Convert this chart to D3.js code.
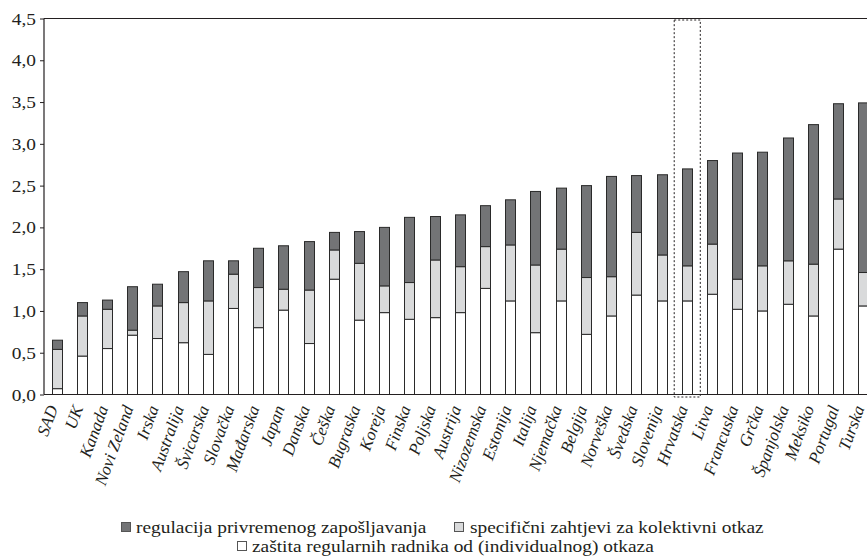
<!DOCTYPE html>
<html><head><meta charset="utf-8">
<script src="https://cdn.jsdelivr.net/npm/d3@7/dist/d3.min.js"></script>
<style>
html,body{margin:0;padding:0;background:#fff;}
svg{display:block;}
svg text{fill:#231f20;}
</style></head>
<body>
<svg id="chart" width="867" height="557"></svg>
<script>
const countries = ["SAD","UK","Kanada","Novi Zeland","Irska","Australija","Švicarska","Slovačka","Mađarska","Japan","Danska","Češka","Bugraska","Koreja","Finska","Poljska","Austrija","Nizozemska","Estonija","Italija","Njemačka","Belgija","Norveška","Švedska","Slovenija","Hrvatska","Litva","Francuska","Grčka","Španjolska","Meksiko","Portugal","Turska"];
const regular    = [0.07,0.46,0.55,0.71,0.67,0.62,0.48,1.03,0.80,1.01,0.61,1.38,0.89,0.98,0.90,0.92,0.98,1.27,1.12,0.74,1.12,0.72,0.94,1.19,1.12,1.12,1.20,1.02,1.00,1.08,0.94,1.74,1.06];
const collective = [0.47,0.48,0.47,0.06,0.39,0.48,0.64,0.41,0.48,0.25,0.64,0.35,0.68,0.32,0.44,0.69,0.55,0.50,0.67,0.81,0.62,0.68,0.47,0.75,0.55,0.42,0.60,0.36,0.54,0.52,0.62,0.60,0.40];
const temporary  = [0.11,0.16,0.11,0.52,0.26,0.37,0.48,0.16,0.47,0.52,0.58,0.21,0.38,0.70,0.78,0.52,0.62,0.49,0.54,0.88,0.73,1.10,1.20,0.68,0.96,1.16,1.00,1.51,1.36,1.47,1.67,1.14,2.03];
const yTicks = [0,0.5,1,1.5,2,2.5,3,3.5,4,4.5];
const seriesKeys = ["regular","collective","temporary"];
const seriesLabels = {
  temporary: "regulacija privremenog zapošljavanja",
  collective: "specifični zahtjevi za kolektivni otkaz",
  regular: "zaštita regularnih radnika od (individualnog) otkaza"
};
const highlight = "Hrvatska";

const colors = {regular:"#ffffff", collective:"#d9dadb", temporary:"#737476"};
const rows = countries.map((c,i)=>({country:c, regular:regular[i], collective:collective[i], temporary:temporary[i]}));
const FONT = "Liberation Serif";

const svg = d3.select("#chart");
const pLeft = 44, pRight = 875.8, pTop = 18.5, pBottom = 394.5;
const x = d3.scaleBand().domain(countries).range([pLeft,pRight]).paddingInner(0.6).paddingOuter(0.3);
const y = d3.scaleLinear().domain([0,4.5]).range([pBottom,pTop]);
const stack = d3.stack().keys(seriesKeys)(rows);
const sx = 1.14;

// bars
svg.append("g").selectAll("g").data(stack).join("g")
  .attr("fill", d=>colors[d.key])
  .selectAll("rect").data(d=>d).join("rect")
  .attr("x", d=>Math.round(x(d.data.country))+0.5)
  .attr("width", Math.round(x.bandwidth()))
  .attr("y", d=>y(d[1]))
  .attr("height", d=>y(d[0])-y(d[1]))
  .attr("stroke","#2a2a2a").attr("stroke-width",1);

// frame: top line, bottom axis
svg.append("line").attr("x1",pLeft).attr("x2",867).attr("y1",pTop).attr("y2",pTop).attr("stroke","#231f20").attr("stroke-width",1.2);
svg.append("line").attr("x1",pLeft).attr("x2",867).attr("y1",pBottom).attr("y2",pBottom).attr("stroke","#231f20").attr("stroke-width",1.2);

// y axis
const yAxis = svg.append("g").attr("transform",`translate(${pLeft},0)`)
  .call(d3.axisLeft(y).tickValues(yTicks).tickSize(4).tickPadding(0).tickFormat(d=>d3.format(".1f")(d).replace(".",",")));
yAxis.attr("font-family",FONT).attr("font-size",17);
yAxis.select(".domain").attr("stroke","#231f20").attr("stroke-width",1.2).attr("d",`M0,${pTop}V${pBottom}`);
yAxis.selectAll(".tick line").attr("stroke","#231f20");
yAxis.selectAll(".tick text").attr("font-size",17).attr("fill","#231f20")
  .attr("font-family",FONT)
  .attr("x",null).attr("dy","0.33em")
  .attr("transform",`translate(-8,0) scale(${sx},1)`);

// x labels
svg.append("g").selectAll("text").data(countries).join("text")
  .attr("transform", d=>`translate(${x(d)+x.bandwidth()/2+1.5},408) rotate(-70)`)
  .attr("text-anchor","end")
  .attr("font-family",FONT)
  .attr("font-size",17).attr("font-style","italic")
  .text(d=>d);

// highlight box
svg.append("rect")
  .attr("x", x(highlight)-7.5).attr("width", x.bandwidth()+16)
  .attr("y", y(4.5)+1.5).attr("height", y(0)-y(4.5)+1)
  .attr("fill","none").attr("stroke","#231f20").attr("stroke-width",1).attr("stroke-dasharray","2,2");

// legend
const legendItems = [
  {key:"temporary", sq:121, tx:136, y:533},
  {key:"collective", sq:454, tx:470, y:533},
  {key:"regular", sq:237, tx:252, y:552}
];
const lg = svg.append("g");
legendItems.forEach(it=>{
  lg.append("rect").attr("x",it.sq+0.5).attr("y",it.y-10.5).attr("width",9).attr("height",9)
    .attr("fill",colors[it.key]).attr("stroke","#555").attr("stroke-width",1);
  lg.append("text").attr("transform",`translate(${it.tx},${it.y}) scale(${sx},1)`)
    .attr("font-family",FONT)
    .attr("font-size",17).text(seriesLabels[it.key]);
});
</script>
</body></html>
